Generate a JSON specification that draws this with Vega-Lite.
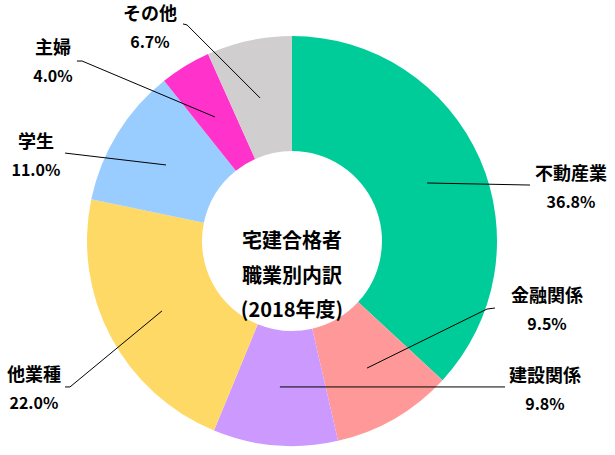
{
  "$schema": "https://vega.github.io/schema/vega-lite/v6.json",
  "width": 584,
  "height": 428,
  "autosize": {"type": "none"},
  "padding": {"left": 0, "top": 27, "right": 31, "bottom": 0},
  "background": "white",
  "config": {"view": {"stroke": null}, "font": "Noto Sans CJK JP"},
  "datasets": {
    "jobs": [
      {"category": "不動産業", "share": 36.8, "order": 1},
      {"category": "金融関係", "share": 9.5, "order": 2},
      {"category": "建設関係", "share": 9.8, "order": 3},
      {"category": "他業種", "share": 22.0, "order": 4},
      {"category": "学生", "share": 11.0, "order": 5},
      {"category": "主婦", "share": 4.0, "order": 6},
      {"category": "その他", "share": 6.7, "order": 7}
    ],
    "leaders": [
      {"category": "不動産業", "step": 1, "x": 0.659, "y": 0.283},
      {"category": "不動産業", "step": 2, "x": 1.161, "y": 0.273},
      {"category": "金融関係", "step": 1, "x": 0.366, "y": -0.62},
      {"category": "金融関係", "step": 2, "x": 0.951, "y": -0.332},
      {"category": "金融関係", "step": 3, "x": 0.99, "y": -0.327},
      {"category": "建設関係", "step": 1, "x": -0.059, "y": -0.712},
      {"category": "建設関係", "step": 2, "x": 1.039, "y": -0.712},
      {"category": "他業種", "step": 1, "x": -0.634, "y": -0.341},
      {"category": "他業種", "step": 2, "x": -1.083, "y": -0.712},
      {"category": "他業種", "step": 3, "x": -1.107, "y": -0.712},
      {"category": "学生", "step": 1, "x": -0.615, "y": 0.371},
      {"category": "学生", "step": 2, "x": -1.107, "y": 0.429},
      {"category": "主婦", "step": 1, "x": -0.376, "y": 0.605},
      {"category": "主婦", "step": 2, "x": -1.024, "y": 0.878},
      {"category": "主婦", "step": 3, "x": -1.049, "y": 0.878},
      {"category": "その他", "step": 1, "x": -0.156, "y": 0.698},
      {"category": "その他", "step": 2, "x": -0.512, "y": 1.054},
      {"category": "その他", "step": 3, "x": -0.532, "y": 1.059}
    ],
    "labels": [
      {"category": "不動産業", "x": 1.361, "y": 0.254},
      {"category": "金融関係", "x": 1.244, "y": -0.341},
      {"category": "建設関係", "x": 1.234, "y": -0.732},
      {"category": "他業種", "x": -1.259, "y": -0.727},
      {"category": "学生", "x": -1.249, "y": 0.412},
      {"category": "主婦", "x": -1.166, "y": 0.866},
      {"category": "その他", "x": -0.693, "y": 1.034}
    ]
  },
  "layer": [
    {
      "data": {"name": "jobs"},
      "mark": {"type": "arc", "innerRadius": 90, "outerRadius": 205},
      "encoding": {
        "theta": {"field": "share", "type": "quantitative", "stack": true},
        "order": {"field": "order", "type": "quantitative"},
        "color": {
          "field": "category",
          "type": "nominal",
          "legend": null,
          "scale": {
            "domain": ["不動産業", "金融関係", "建設関係", "他業種", "学生", "主婦", "その他"],
            "range": ["#00CC99", "#FF9999", "#CC99FF", "#FFD966", "#99CCFF", "#FF33CC", "#D0CECE"]
          }
        }
      }
    },
    {
      "data": {"name": "leaders"},
      "mark": {"type": "line", "color": "black", "strokeWidth": 1},
      "encoding": {
        "x": {"field": "x", "type": "quantitative", "axis": null, "scale": {"domain": [-1.4244, 1.4244], "nice": false, "zero": false}},
        "y": {"field": "y", "type": "quantitative", "axis": null, "scale": {"domain": [-1.044, 1.044], "nice": false, "zero": false}},
        "detail": {"field": "category"},
        "order": {"field": "step", "type": "quantitative"}
      }
    },
    {
      "data": {"name": "jobs"},
      "transform": [
        {"lookup": "category", "from": {"data": {"name": "labels"}, "key": "category", "fields": ["x", "y"]}}
      ],
      "mark": {"type": "text", "fontSize": 18, "fontWeight": "bold", "baseline": "middle", "dy": -14, "color": "black"},
      "encoding": {
        "x": {"field": "x", "type": "quantitative"},
        "y": {"field": "y", "type": "quantitative"},
        "text": {"field": "category"}
      }
    },
    {
      "data": {"name": "jobs"},
      "transform": [
        {"lookup": "category", "from": {"data": {"name": "labels"}, "key": "category", "fields": ["x", "y"]}},
        {"calculate": "format(datum.share, '.1f') + '%'", "as": "pct"}
      ],
      "mark": {"type": "text", "fontSize": 16, "fontWeight": "bold", "baseline": "middle", "dy": 14, "color": "black"},
      "encoding": {
        "x": {"field": "x", "type": "quantitative"},
        "y": {"field": "y", "type": "quantitative"},
        "text": {"field": "pct"}
      }
    },
    {
      "data": {"values": [{}]},
      "mark": {"type": "text", "fontSize": 20, "fontWeight": "bold", "baseline": "middle", "lineHeight": 34.5, "dy": 1, "color": "black"},
      "encoding": {
        "x": {"datum": 0, "type": "quantitative"},
        "y": {"datum": 0, "type": "quantitative"},
        "text": {"value": ["宅建合格者", "職業別内訳", "(2018年度)"]}
      }
    }
  ]
}
